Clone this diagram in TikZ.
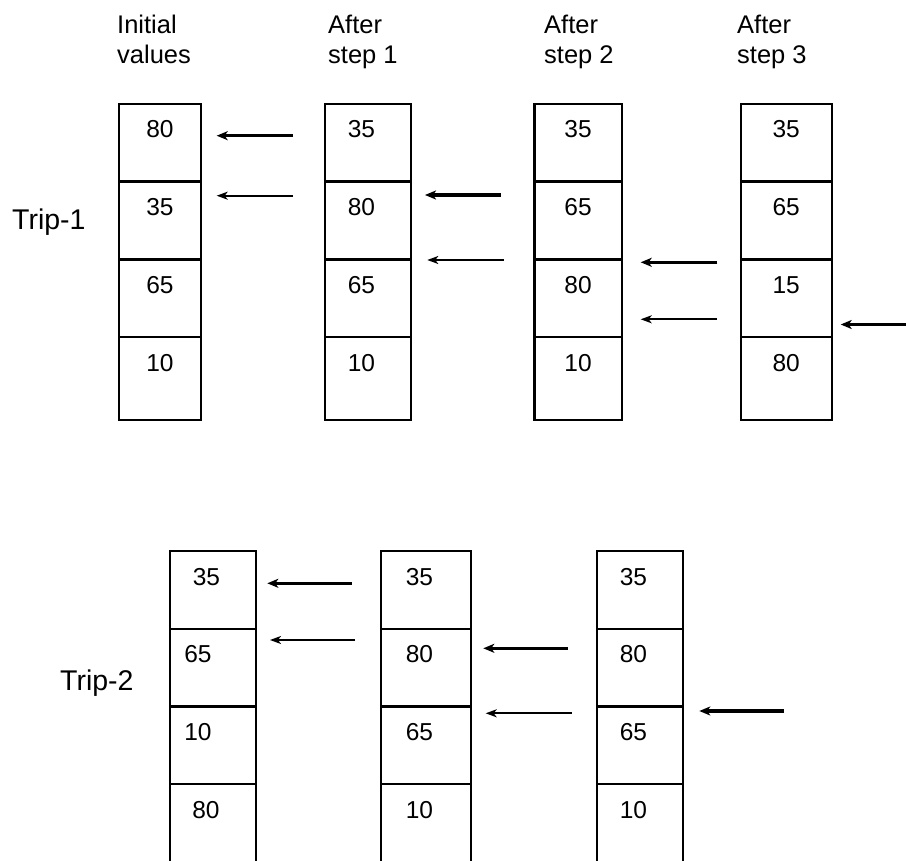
\documentclass[tikz,border=0pt]{standalone}
\usepackage{fontspec}
\setmainfont{Liberation Sans}
\usetikzlibrary{arrows.meta}

\tikzset{
  cell/.style={draw, line width=2.4pt, inner sep=0pt, outer sep=0pt, anchor=north,
    text height=34pt, execute at end node={\hspace{#1}}},
  cell/.default=0pt,
  heading/.style={anchor=north west, align=left, inner sep=0pt,
    font=\fontsize{25.5}{30}\selectfont},
  triplabel/.style={anchor=base west, inner sep=0pt,
    font=\fontsize{28.5}{34}\selectfont},
  bigarrow/.style={line width=3.2pt, -{Stealth[length=11pt,width=9pt,inset=3pt]}},
  smallarrow/.style={line width=1.7pt, -{Stealth[length=11pt,width=8pt,inset=3pt]}}
}

\begin{document}
\begin{tikzpicture}[x=1pt, y=-1pt, font=\fontsize{24.5}{30}\selectfont]
    \useasboundingbox (0,0) rectangle (906,861);
    \clip (0,0) rectangle (906,861);

    % column headings
    \node[heading] (init) at (117,15) {Initial\\values};
    \node[heading] (step1) at (328,15) {After\\step 1};
    \node[heading] (step2) at (544,15) {After\\step 2};
    \node[heading] (step3) at (737,15) {After\\step 3};

    \node[triplabel] (trip1) at (12,230) {Trip-1};
    \node[triplabel] (trip2) at (60,690.7) {Trip-2};

    % columns: name/centre/width/top/{value/shift}
    \foreach \n/\x/\w/\top/\vals in {
        a/160/82/104/{80/0pt,35/0pt,65/0pt,10/0pt},
        b/367.9/85.7/104/{35/13pt,80/13pt,65/13pt,10/13pt},
        c/578/87.4/104/{35/0pt,65/0pt,80/0pt,10/0pt},
        d/786.2/91/104/{35/0pt,65/0pt,15/0pt,80/0pt},
        e/213/86/551/{35/13pt,65/30pt,10/30pt,80/14pt},
        f/425.9/89.7/551/{35/13pt,80/13pt,65/13pt,10/13pt},
        g/639.9/85.7/551/{35/13pt,80/13pt,65/13pt,10/13pt}}
    \foreach \v/\s [count=\k] in \vals {
        \pgfmathsetmacro\dd{\k==4 ? 49 : 43.7}
        \node[cell=\s, minimum width=\w pt, text depth=\dd pt] (\n\k)
            at (\x,\top+77.7*\k-77.7) {\v};
    }

    % swap arrows: start/tip/y/style
    \foreach \s/\e/\y/\st [count=\i] in {
        293/216.7/135.7/bigarrow, 293/216.7/195.7/smallarrow,
        501/425/195/bigarrow, 504/427.3/260/smallarrow,
        717.3/640.7/262.3/bigarrow, 717/640.7/319.3/smallarrow,
        912/840.7/324.5/bigarrow,
        351.7/267.3/583.3/bigarrow, 355/270/640/smallarrow,
        567.7/483.3/648.3/bigarrow, 571.7/485.7/713.3/smallarrow,
        784/699.3/711/bigarrow} {
        \coordinate (from\i) at (\s,\y);
        \coordinate (to\i) at (\e,\y);
        \draw[\st] (from\i) -- (to\i);
    }

\end{tikzpicture}
\end{document}
